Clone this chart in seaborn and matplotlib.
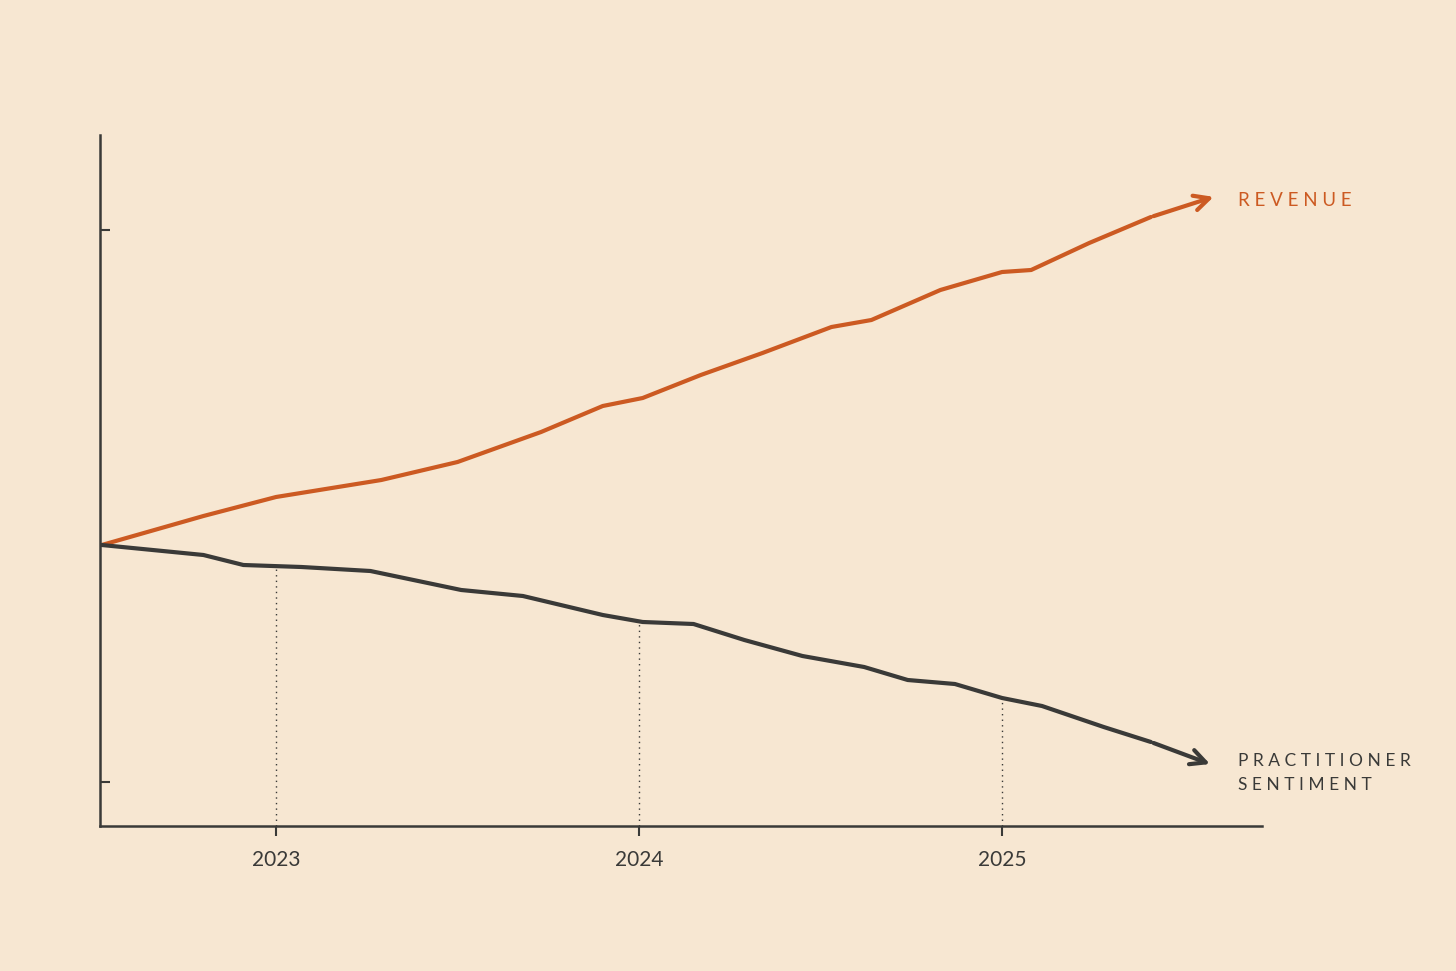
import numpy as np
import matplotlib
matplotlib.use("Agg")
import matplotlib.pyplot as plt
import seaborn as sns

# time in years, values on an arbitrary index (0 = axis floor)
rev_t = [2022.52, 2022.80, 2023.00, 2023.29, 2023.50, 2023.73, 2023.90, 2024.01,
         2024.17, 2024.34, 2024.53, 2024.64, 2024.83, 2025.00, 2025.08, 2025.24,
         2025.41, 2025.59]
rev_v = [281, 310, 329, 346, 364, 394, 420, 428, 451, 473, 499, 506, 536, 554,
         556, 583, 609, 630]
sen_t = [2022.52, 2022.80, 2022.91, 2023.07, 2023.26, 2023.51, 2023.68, 2023.90,
         2024.01, 2024.15, 2024.29, 2024.45, 2024.62, 2024.74, 2024.87, 2025.00,
         2025.11, 2025.28, 2025.41, 2025.58]
sen_v = [281, 271, 261, 259, 255, 236, 230, 211, 204, 202, 186, 170, 159, 146,
         142, 128, 120, 99, 84, 61]
years = [2023, 2024, 2025]

bg = "#f7e7d2"
orange = "#cc5a22"
dark = "#3a3a38"

sns.set_theme(style="white")
plt.rcParams["font.family"] = ["Lato", "DejaVu Sans"]

fig = plt.figure(figsize=(14.56, 9.71), dpi=100, facecolor=bg)
ax = fig.add_axes([100/1456, 145/971, 1162/1456, 691/971])
ax.set_facecolor(bg)
ax.set_xlim(2022.515, 2025.716)
ax.set_ylim(0, 691)

sns.lineplot(x=rev_t[:-1], y=rev_v[:-1], color=orange, lw=3, ax=ax)
sns.lineplot(x=sen_t[:-1], y=sen_v[:-1], color=dark, lw=3, ax=ax)
ax.annotate("", xy=(rev_t[-1], rev_v[-1]), xytext=(rev_t[-2], rev_v[-2]),
            arrowprops=dict(arrowstyle="->,head_length=0.9,head_width=0.45", color=orange, lw=3))
ax.annotate("", xy=(sen_t[-1], sen_v[-1]), xytext=(sen_t[-2], sen_v[-2]),
            arrowprops=dict(arrowstyle="->,head_length=0.9,head_width=0.45", color=dark, lw=3))

for y in years:
    top = np.interp(y, sen_t, sen_v)
    ax.plot([y, y], [0, top], color=dark, lw=1, ls=(0, (1, 3)))

ax.text(2025.65, 626, "R E V E N U E", color=orange, fontsize=13.5, va="center")
ax.text(2025.65, 53, "P R A C T I T I O N E R\nS E N T I M E N T", color=dark,
        fontsize=12.5, va="center", linespacing=1.65)

for s in ["top", "right"]:
    ax.spines[s].set_visible(False)
for s in ["left", "bottom"]:
    ax.spines[s].set_color(dark)
    ax.spines[s].set_linewidth(1.8)
ax.set_xticks(years)
ax.set_xticklabels([str(y) for y in years], fontsize=15, color=dark)
ax.set_yticks([44, 596])
ax.set_yticklabels([])
ax.tick_params(axis="x", direction="out", length=7, width=1.5, color=dark, pad=10)
ax.tick_params(axis="y", direction="in", length=7, width=1.5, color=dark, left=True)
ax.tick_params(axis="x", bottom=True)

fig.savefig("out.png", dpi=100, facecolor=bg)
